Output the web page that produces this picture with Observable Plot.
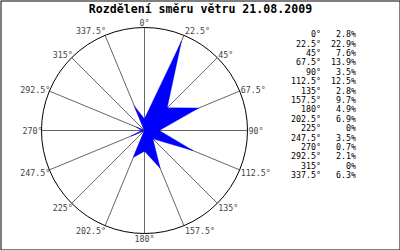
<!DOCTYPE html>
<html><head><meta charset="utf-8">
<script src="https://cdn.jsdelivr.net/npm/d3@7"></script>
<script src="https://cdn.jsdelivr.net/npm/@observablehq/plot@0.6"></script>
<style>
body{margin:0;background:#fff;}
#wrap{position:relative;width:400px;height:250px;overflow:hidden;}
#legend{position:absolute;left:0;top:30.3px;width:400px;font-family:"DejaVu Sans Mono",monospace;font-size:8.3px;color:#000;}
#legend .row{position:relative;height:9.4px;line-height:9.4px;}
#legend span{position:absolute;top:0;white-space:nowrap;}
</style>
</head><body>
<div id="wrap"></div>
<script>
const title = "Rozdělení směru větru 21.08.2009";
const directions = [0, 22.5, 45, 67.5, 90, 112.5, 135, 157.5, 180, 202.5, 225, 247.5, 270, 292.5, 315, 337.5];
const percents = [2.8, 22.9, 7.6, 13.9, 3.5, 12.5, 2.8, 9.7, 4.9, 6.9, 0, 3.5, 0.7, 2.1, 0, 6.3];

const W = 400, H = 250, cx = 144, cy = 130, R = 103, rmax = 24.4, k = R / rmax;
const rad = d => d * Math.PI / 180;
const degLabel = d => d + "°";
const pctLabel = v => v + "%";

const poly = directions.map((d, i) => ({x: percents[i] * Math.sin(rad(d)), y: percents[i] * Math.cos(rad(d))}));
const spokes = directions.map(d => ({x2: rmax * Math.sin(rad(d)), y2: rmax * Math.cos(rad(d))}));
const labels = directions.map(d => {
  const s = Math.sin(rad(d)), c = Math.cos(rad(d));
  const side = Math.abs(s) < 0.01 ? "middle" : (s > 0 ? "start" : "end");
  return {
    d, side,
    x: rmax * s + (side === "start" ? 1 : side === "end" ? 1 : 0) / k,
    y: rmax * c + (5.2 * c - 1) / k,
    text: degLabel(d)
  };
});

const plot = Plot.plot({
  width: W, height: H, margin: 0,
  x: {domain: [-cx / k, (W - cx) / k], axis: null},
  y: {domain: [-(H - cy) / k, cy / k], axis: null},
  style: {fontFamily: "DejaVu Sans Mono, monospace", background: "#fff"},
  marks: [
    Plot.link(spokes, {x1: () => 0, y1: () => 0, x2: "x2", y2: "y2", stroke: "#666", strokeWidth: 1}),
    Plot.line(poly, {x: "x", y: "y", curve: "linear-closed", fill: "#0000ff", stroke: "#0000ff", strokeWidth: 0.4}),
    Plot.dot([{x: 0, y: 0}], {x: "x", y: "y", r: R, fill: "none", stroke: "#000", strokeWidth: 1}),
    Plot.text(labels.filter(l => l.side === "start"), {x: "x", y: "y", text: "text", textAnchor: "start", fill: "#444", fontSize: 8.3}),
    Plot.text(labels.filter(l => l.side === "end"), {x: "x", y: "y", text: "text", textAnchor: "end", fill: "#444", fontSize: 8.3}),
    Plot.text(labels.filter(l => l.side === "middle"), {x: "x", y: "y", text: "text", textAnchor: "middle", fill: "#444", fontSize: 8.3}),
    Plot.text([title], {frameAnchor: "top", dy: 9, text: d => d, fontSize: 11.6, fontWeight: "bold", fill: "#000", lineAnchor: "middle"}),
    Plot.frame({stroke: "#000", strokeWidth: 1, inset: 0.5})
  ]
});
const wrap = document.getElementById("wrap");
wrap.appendChild(plot);

const legend = document.createElement("div");
legend.id = "legend";
directions.forEach((d, i) => {
  const row = document.createElement("div");
  row.className = "row";
  const a = document.createElement("span");
  a.style.right = (W - 321) + "px";
  a.textContent = degLabel(d);
  const b = document.createElement("span");
  b.style.right = (W - 356) + "px";
  b.textContent = pctLabel(percents[i]);
  row.appendChild(a); row.appendChild(b);
  legend.appendChild(row);
});
wrap.appendChild(legend);
</script>
</body></html>
